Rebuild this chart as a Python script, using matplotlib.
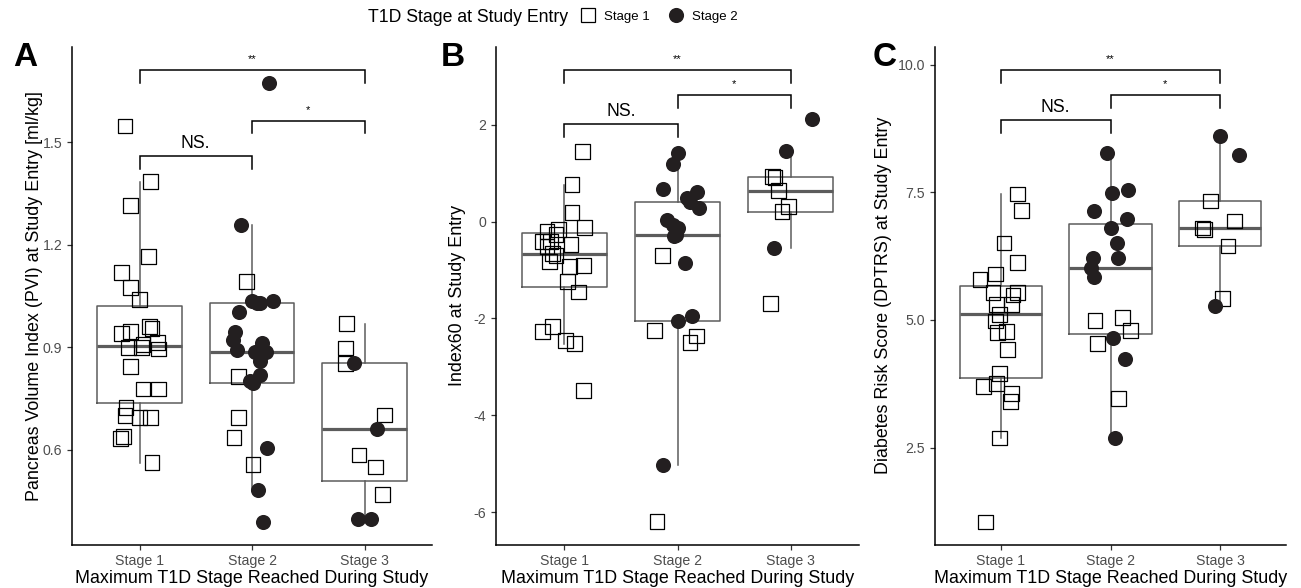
import matplotlib

matplotlib.use("Agg")
import matplotlib.pyplot as plt  # noqa: E402
from matplotlib.lines import Line2D  # noqa: E402

plt.rcParams["font.family"] = ["Liberation Sans", "DejaVu Sans"]
plt.rcParams["axes.unicode_minus"] = False

STAGES = ["Stage 1", "Stage 2", "Stage 3"]

# Panel A: Pancreas Volume Index. sq = Stage 1 at entry, ci = Stage 2 at entry
pvi_s1_sq = [1.547, 1.384, 1.314, 1.165, 1.118, 1.074, 1.039, 0.96, 0.954, 0.945, 0.94, 0.913, 0.907,
             0.90, 0.90, 0.895, 0.843, 0.778, 0.778, 0.723, 0.70, 0.694, 0.694, 0.638, 0.632, 0.562]
pvi_s1_sq_jit = [-0.13, 0.10, -0.08, 0.08, -0.16, -0.08, 0.0, 0.09, 0.11, -0.08, -0.16, 0.16, 0.03,
                 -0.10, 0.02, 0.17, -0.08, 0.03, 0.17, -0.12, -0.13, 0.0, 0.10, -0.14, -0.17, 0.11]
pvi_s1_ci = []
pvi_s1_ci_jit = []
pvi_s2_sq = [1.092, 0.814, 0.694, 0.635, 0.556]
pvi_s2_sq_jit = [-0.05, -0.12, -0.12, -0.16, 0.01]
pvi_s2_ci = [1.674, 1.258, 1.035, 1.03, 1.035, 1.03, 1.004, 0.945, 0.922, 0.893, 0.887, 0.913,
             0.887, 0.86, 0.82, 0.80, 0.795, 0.606, 0.483, 0.389]
pvi_s2_ci_jit = [0.15, -0.10, 0.0, 0.07, 0.19, 0.04, -0.12, -0.15, -0.17, -0.13, 0.03, 0.09,
                 0.12, 0.07, 0.07, -0.02, 0.01, 0.13, 0.05, 0.10]
pvi_s3_sq = [0.969, 0.898, 0.852, 0.702, 0.585, 0.55, 0.47]
pvi_s3_sq_jit = [-0.16, -0.17, -0.17, 0.18, -0.05, 0.10, 0.16]
pvi_s3_ci = [0.854, 0.661, 0.398, 0.398]
pvi_s3_ci_jit = [-0.09, 0.11, -0.06, 0.06]

# Panel B: Index60
idx_s1_sq = [1.446, 0.764, 0.186, -0.124, -0.165, -0.2, -0.27, -0.41, -0.41, -0.475, -0.51, -0.66,
             -0.70, -0.82, -0.91, -0.93, -1.24, -1.45, -2.17, -2.27, -2.46, -2.52, -3.49]
idx_s1_sq_jit = [0.16, 0.07, 0.07, 0.18, -0.05, -0.15, -0.07, -0.19, -0.12, 0.06, -0.15, -0.10,
                 -0.07, -0.13, 0.17, 0.05, 0.03, 0.13, -0.10, -0.19, 0.01, 0.09, 0.17]
idx_s1_ci = []
idx_s1_ci_jit = []
idx_s2_sq = [-0.70, -2.25, -2.36, -2.5, -6.2]
idx_s2_sq_jit = [-0.13, -0.20, 0.17, 0.11, -0.18]
idx_s2_ci = [1.43, 1.2, 0.68, 0.62, 0.49, 0.40, 0.29, 0.04, -0.06, -0.13, -0.27, -0.30, -0.85,
             -1.94, -2.06, -5.02]
idx_s2_ci_jit = [0.0, -0.04, -0.13, 0.17, 0.08, 0.11, 0.19, -0.09, -0.04, 0.0, -0.01, -0.03, 0.07,
                 0.13, 0.0, -0.13]
idx_s3_sq = [0.93, 0.91, 0.64, 0.31, 0.21, -1.69]
idx_s3_sq_jit = [-0.16, -0.14, -0.11, -0.02, -0.08, -0.18]
idx_s3_ci = [2.13, 1.47, -0.54]
idx_s3_ci_jit = [0.19, -0.04, -0.15]

# Panel C: DPTRS
dpt_s1_sq = [7.47, 7.15, 6.51, 6.13, 5.90, 5.80, 5.54, 5.54, 5.49, 5.31, 5.31, 5.11, 4.98, 4.78,
             4.76, 4.42, 3.95, 3.76, 3.69, 3.56, 3.40, 2.69, 1.04]
dpt_s1_sq_jit = [0.15, 0.19, 0.03, 0.15, -0.05, -0.19, -0.07, 0.15, 0.11, -0.04, 0.10, -0.01, -0.05,
                 0.05, -0.03, 0.06, -0.01, -0.04, -0.16, 0.10, 0.09, -0.01, -0.14]
dpt_s1_ci = []
dpt_s1_ci_jit = []
dpt_s2_sq = [5.05, 4.99, 4.80, 4.54, 3.46]
dpt_s2_sq_jit = [0.11, -0.14, 0.18, -0.12, 0.07]
dpt_s2_ci = [8.27, 7.55, 7.49, 7.13, 6.97, 6.80, 6.51, 6.21, 6.21, 6.02, 5.84, 4.64, 4.23, 2.69]
dpt_s2_ci_jit = [-0.03, 0.16, 0.01, -0.15, 0.15, 0.0, 0.06, 0.07, -0.16, -0.18, -0.15, 0.02, 0.13, 0.04]
dpt_s3_sq = [7.33, 6.94, 6.80, 6.78, 6.45, 5.42]
dpt_s3_sq_jit = [-0.09, 0.13, -0.16, -0.14, 0.07, 0.02]
dpt_s3_ci = [8.61, 8.24, 5.27]
dpt_s3_ci_jit = [0.0, 0.17, -0.05]

# significance brackets: (from, to, height, label)
pvi_brackets = [(1, 2, 1.460, "NS."), (2, 3, 1.563, "*"), (1, 3, 1.712, "**")]
idx_brackets = [(1, 2, 2.02, "NS."), (2, 3, 2.62, "*"), (1, 3, 3.14, "**")]
dpt_brackets = [(1, 2, 8.92, "NS."), (2, 3, 9.41, "*"), (1, 3, 9.905, "**")]

BOX_COLOR = "#5c5c5c"
DOT_COLOR = "#231f20"
TICK_COLOR = "#4d4d4d"
W, H = 1301, 588


def draw_panel(ax, groups, ylim, yticks, yticklabels, ylabel, brackets):
    values = [sq + ci for sq, _, ci, _ in groups]
    ax.boxplot(
        values,
        positions=[1, 2, 3],
        widths=0.75,
        whis=1.5,
        showfliers=False,
        showcaps=False,
        boxprops=dict(color=BOX_COLOR, linewidth=1.1),
        whiskerprops=dict(color=BOX_COLOR, linewidth=1.1),
        medianprops=dict(color=BOX_COLOR, linewidth=2.3),
        zorder=2,
    )
    for pos, (sq, sq_jit, ci, ci_jit) in enumerate(groups, start=1):
        ax.scatter([pos + j for j in sq_jit], sq, marker="s", s=112, facecolors="none",
                   edgecolors="black", linewidths=0.9, zorder=3)
        ax.scatter([pos + j for j in ci_jit], ci, marker="o", s=118, color=DOT_COLOR,
                   linewidths=0, zorder=3)

    ax.set_xlim(0.4, 3.6)
    ax.set_ylim(*ylim)
    ax.set_xticks([1, 2, 3], STAGES)
    ax.set_yticks(yticks, yticklabels)
    ax.tick_params(colors="#333333", labelcolor=TICK_COLOR, labelsize=10.2, length=3.5, width=0.9)
    for side in ("top", "right"):
        ax.spines[side].set_visible(False)
    for side in ("left", "bottom"):
        ax.spines[side].set_linewidth(1.1)

    ax.set_xlabel("Maximum T1D Stage Reached During Study", fontsize=12.9, va="center")
    ax.xaxis.set_label_coords(0.5, -0.068)
    ax.set_ylabel(ylabel, fontsize=12.9, va="center")

    tip = 0.026 * (ylim[1] - ylim[0])
    for x1, x2, y, label in brackets:
        ax.plot([x1, x1, x2, x2], [y - tip, y, y, y - tip], color="black", linewidth=1.1,
                solid_joinstyle="miter", zorder=4)
        big = label.startswith("N")
        ax.annotate(label, xy=((x1 + x2) / 2, y), xytext=(0, 3 if big else 4),
                    textcoords="offset points", ha="center", va="bottom",
                    fontsize=12.7 if big else 8)


fig = plt.figure(figsize=(W / 100, H / 100), dpi=100)
fig.patch.set_facecolor("white")

top, bottom = 47, 544.5
axes_px = [(72, 360), (496, 363), (935, 351)]
axes = [fig.add_axes([l / W, (H - bottom) / H, w / W, (bottom - top) / H]) for l, w in axes_px]

draw_panel(
    axes[0],
    [(pvi_s1_sq, pvi_s1_sq_jit, pvi_s1_ci, pvi_s1_ci_jit),
     (pvi_s2_sq, pvi_s2_sq_jit, pvi_s2_ci, pvi_s2_ci_jit),
     (pvi_s3_sq, pvi_s3_sq_jit, pvi_s3_ci, pvi_s3_ci_jit)],
    (0.323, 1.778), [0.6, 0.9, 1.2, 1.5], ["0.6", "0.9", "1.2", "1.5"],
    "Pancreas Volume Index (PVI) at Study Entry [ml/kg]", pvi_brackets,
)
axes[0].yaxis.set_label_coords(-0.103, 0.5)

draw_panel(
    axes[1],
    [(idx_s1_sq, idx_s1_sq_jit, idx_s1_ci, idx_s1_ci_jit),
     (idx_s2_sq, idx_s2_sq_jit, idx_s2_ci, idx_s2_ci_jit),
     (idx_s3_sq, idx_s3_sq_jit, idx_s3_ci, idx_s3_ci_jit)],
    (-6.67, 3.61), [2, 0, -2, -4, -6], ["2", "0", "-2", "-4", "-6"],
    "Index60 at Study Entry", idx_brackets,
)
axes[1].yaxis.set_label_coords(-0.105, 0.5)

draw_panel(
    axes[2],
    [(dpt_s1_sq, dpt_s1_sq_jit, dpt_s1_ci, dpt_s1_ci_jit),
     (dpt_s2_sq, dpt_s2_sq_jit, dpt_s2_ci, dpt_s2_ci_jit),
     (dpt_s3_sq, dpt_s3_sq_jit, dpt_s3_ci, dpt_s3_ci_jit)],
    (0.60, 10.35), [2.5, 5.0, 7.5, 10.0], ["2.5", "5.0", "7.5", "10.0"],
    "Diabetes Risk Score (DPTRS) at Study Entry", dpt_brackets,
)
axes[2].yaxis.set_label_coords(-0.148, 0.5)

# panel letters
for letter, x in (("A", 25), ("B", 453), ("C", 885)):
    fig.text(x / W, 1 - 57 / H, letter, ha="center", va="center", fontsize=24, fontweight="bold")

# legend on top
fig.text(368 / W, 1 - 17 / H, "T1D Stage at Study Entry", ha="left", va="center", fontsize=12.7)
handles = [
    Line2D([], [], marker="s", linestyle="none", markerfacecolor="none", markeredgecolor="black",
           markeredgewidth=0.9, markersize=10.6),
    Line2D([], [], marker="o", linestyle="none", markerfacecolor=DOT_COLOR, markeredgewidth=0,
           markersize=10.9),
]
fig.legend(handles, ["Stage 1", "Stage 2"], loc="center left", bbox_to_anchor=(580 / W, 1 - 17 / H),
           ncol=2, frameon=False, fontsize=9.5, handletextpad=0.6, columnspacing=1.4,
           borderpad=0, borderaxespad=0, handlelength=1.2)

fig.savefig("out.png", dpi=100, facecolor="white")
